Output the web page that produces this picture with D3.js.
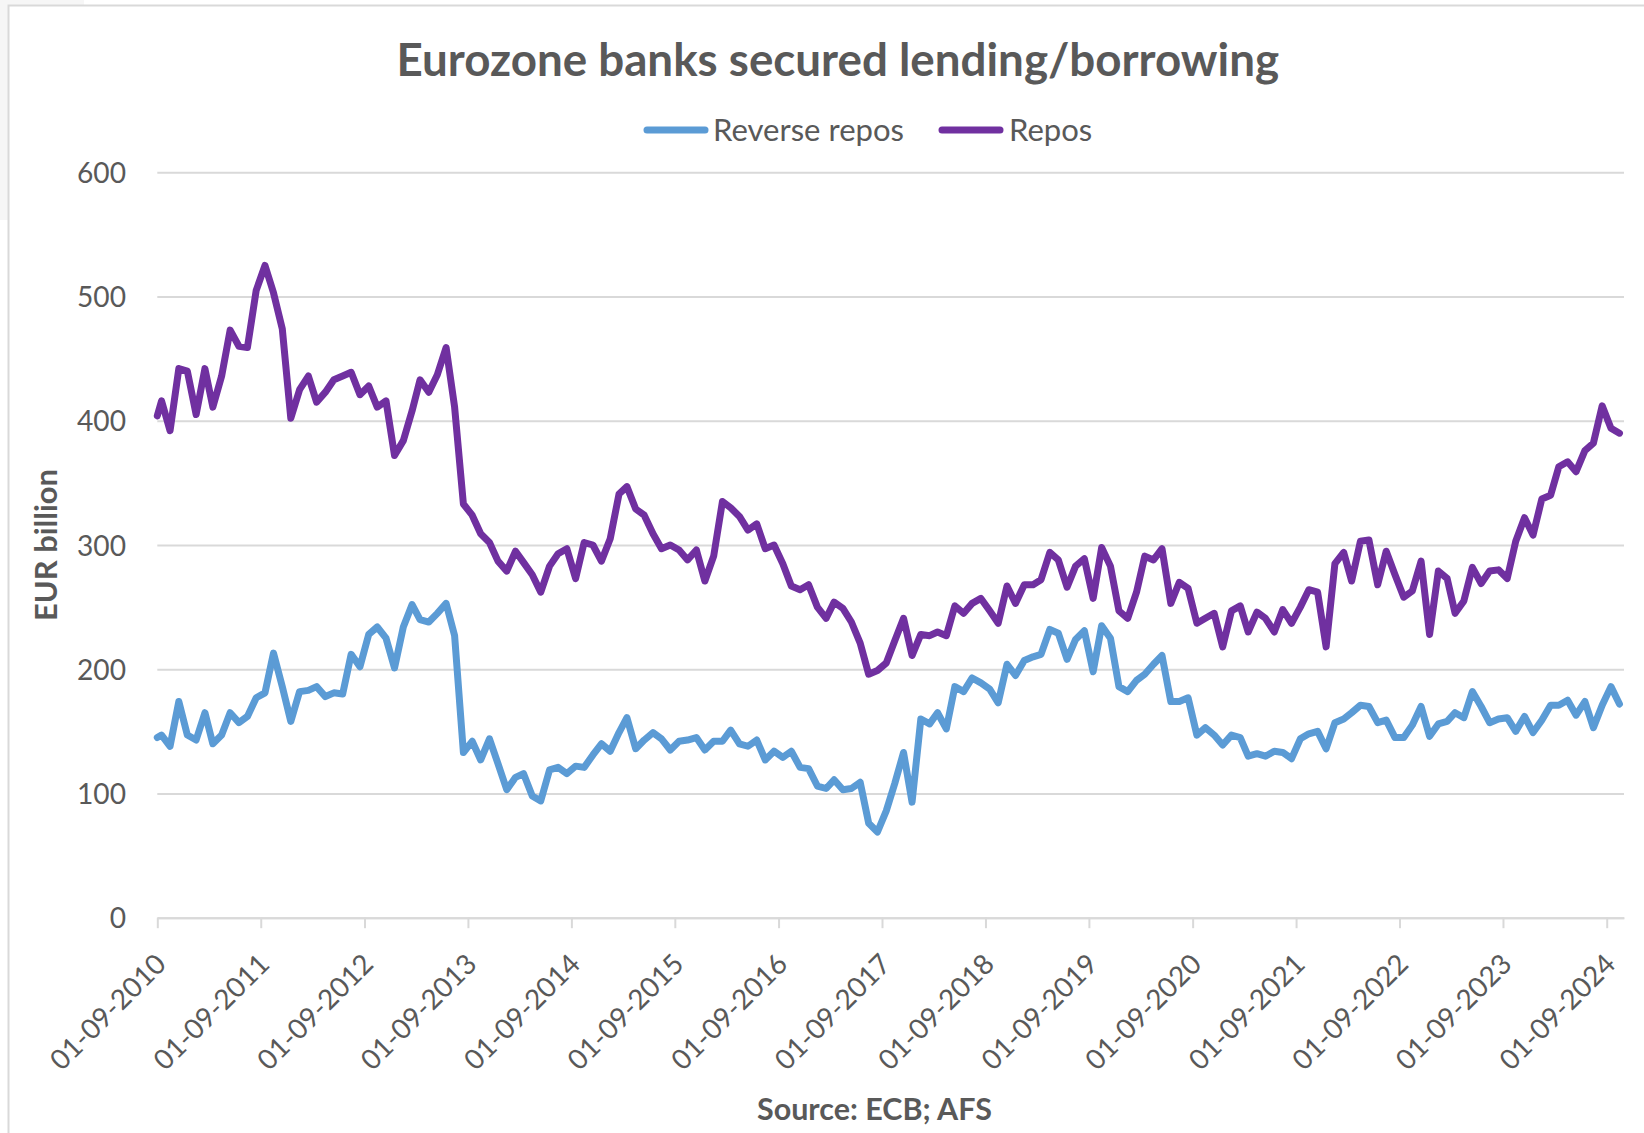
<!DOCTYPE html>
<html>
<head>
<meta charset="utf-8">
<title>Eurozone banks secured lending/borrowing</title>
<script src="https://cdn.jsdelivr.net/npm/d3@7"></script>
<style>
  html, body { margin: 0; padding: 0; background: #ffffff; }
  svg { display: block; }
</style>
</head>
<body>
<svg id="chart" width="1644" height="1133"></svg>
<script>
// ---- Chart data -------------------------------------------------------
const chartTitle = "Eurozone banks secured lending/borrowing";
const yAxisTitle = "EUR billion";
const sourceNote = "Source: ECB; AFS";
const seriesNames = ["Reverse repos", "Repos"];

// First observation, then monthly observations (mid-month)
const firstObservation = "2010-09-01";
const monthlyStart = "2010-09-16";

// EUR billion
const reverseRepos = [
  145,
  147,138,174,147,143,165,140,147,165,157,162,177,181,213,186,158,182,183,186,178,
  181,180,212,202,228,234,225,201,234,252,240,238,245,253,227,133,142,127,144,124,
  103,113,116,98,94,119,121,116,122,121,131,140,134,149,161,136,143,149,144,135,
  142,143,145,135,142,142,151,140,138,143,127,134,129,134,121,120,106,104,111,103,
  104,109,76,69,86,108,133,93,160,156,165,152,186,182,193,189,184,173,204,195,
  207,210,212,232,229,208,224,231,198,235,225,186,182,191,196,204,211,174,174,177,
  147,153,147,139,147,145,130,132,130,134,133,128,144,148,150,136,157,160,165,171,
  170,157,159,145,145,155,170,146,156,158,165,161,182,170,157,160,161,150,162,149,
  159,171,171,175,163,174,153,171,186,172
];
const repos = [
  404,
  416,392,442,440,405,442,411,436,473,460,459,505,525,503,474,402,425,436,415,423,
  433,436,439,421,428,411,416,372,384,408,433,423,437,459,411,333,324,309,302,287,
  279,295,286,276,262,283,293,297,273,302,300,287,305,341,347,329,324,309,297,300,
  296,288,296,271,291,335,330,323,312,317,297,300,285,267,264,268,250,241,254,249,
  238,221,196,199,205,223,241,211,228,227,230,227,251,245,253,257,247,237,267,253,
  268,268,272,294,288,266,283,289,257,298,283,247,241,262,291,288,297,253,270,265,
  237,241,245,218,247,251,230,246,241,230,248,237,250,264,262,218,285,294,271,303,
  304,268,295,276,258,263,287,228,279,273,245,255,282,269,279,280,273,303,322,308,
  337,340,363,367,359,376,382,412,394,390
];

const yTickValues = [0, 100, 200, 300, 400, 500, 600];
const xTickLabels = [
  "01-09-2010", "01-09-2011", "01-09-2012", "01-09-2013", "01-09-2014",
  "01-09-2015", "01-09-2016", "01-09-2017", "01-09-2018", "01-09-2019",
  "01-09-2020", "01-09-2021", "01-09-2022", "01-09-2023", "01-09-2024"
];
const axisEnd = "2024-11-01";

// ---- Styling ----------------------------------------------------------
const FONT = "Lato, 'Open Sans', 'Liberation Sans', sans-serif";
const TEXT = "#595959";
const GRID = "#d9d9d9";
const COLORS = { "Reverse repos": "#5B9BD5", "Repos": "#7030A0" };
const CAP = 0.72; // cap height / font size for the chosen face

const svg = d3.select("#chart");
const W = 1644, H = 1133;
const plot = { left: 157.3, right: 1624, top: 172.3, bottom: 917.7 };

// font size that makes a string span a given width
function fitSize(str, weight, target) {
  const base = 40;
  const t = svg.append("text")
    .attr("font-family", FONT).attr("font-weight", weight)
    .attr("font-size", base).text(str);
  const w = t.node().getComputedTextLength();
  t.remove();
  return base * target / w;
}

// ---- Chart frame ------------------------------------------------------
svg.append("rect").attr("x", 0).attr("y", 0).attr("width", 84).attr("height", 220)
  .attr("fill", "#f6f6f6");
svg.append("rect").attr("x", 8.5).attr("y", 5.5).attr("width", W + 20).attr("height", H + 20)
  .attr("fill", "#ffffff").attr("stroke", GRID).attr("stroke-width", 2);

// ---- Scales -----------------------------------------------------------
const parseISO = d3.timeParse("%Y-%m-%d");
const parseLabel = d3.timeParse("%d-%m-%Y");
const start = parseISO(monthlyStart);
const dates = [parseISO(firstObservation)].concat(
  d3.range(reverseRepos.length - 1).map(i => d3.timeMonth.offset(start, i))
);

const x = d3.scaleTime()
  .domain([parseLabel(xTickLabels[0]), parseISO(axisEnd)])
  .range([plot.left, plot.right]);
const y = d3.scaleLinear().domain([0, 600]).range([plot.bottom, plot.top]);

// ---- Y axis + gridlines ----------------------------------------------
const ySize = fitSize("600", 400, 49);
const yAxis = svg.append("g")
  .attr("transform", `translate(${plot.left},0)`)
  .call(d3.axisLeft(y).tickValues(yTickValues)
    .tickSizeInner(-(plot.right - plot.left)).tickSizeOuter(0).tickPadding(31.3));
yAxis.select(".domain").remove();
yAxis.selectAll(".tick line").attr("stroke", GRID).attr("stroke-width", 2);
yAxis.selectAll(".tick text")
  .attr("font-family", FONT).attr("font-size", ySize).attr("fill", TEXT)
  .attr("dy", null).attr("y", ySize * CAP / 2);

// ---- X axis -----------------------------------------------------------
const xSize = fitSize("01-09-2010", 400, 150);
const xAxis = svg.append("g")
  .attr("transform", `translate(0,${plot.bottom})`)
  .call(d3.axisBottom(x)
    .tickValues(xTickLabels.map(parseLabel))
    .tickFormat((d, i) => xTickLabels[i])
    .tickSizeInner(10.5).tickSizeOuter(0));
xAxis.select(".domain").attr("stroke", GRID).attr("stroke-width", 2);
xAxis.selectAll(".tick line").attr("stroke", GRID).attr("stroke-width", 2);
xAxis.selectAll(".tick text")
  .attr("font-family", FONT).attr("font-size", xSize).attr("fill", TEXT)
  .attr("x", 0).attr("y", 0).attr("dy", null)
  .attr("text-anchor", "end")
  .attr("transform", "translate(10,48) rotate(-45)");

// ---- Lines ------------------------------------------------------------
const line = d3.line().x((d, i) => x(dates[i])).y(d => y(d));
const seriesData = { "Reverse repos": reverseRepos, "Repos": repos };
seriesNames.forEach(name => {
  svg.append("path")
    .datum(seriesData[name])
    .attr("d", line)
    .attr("fill", "none")
    .attr("stroke", COLORS[name])
    .attr("stroke-width", 7)
    .attr("stroke-linejoin", "round")
    .attr("stroke-linecap", "round");
});

// ---- Title ------------------------------------------------------------
const tSize = fitSize(chartTitle, 700, 883);
svg.append("text")
  .attr("x", 837.8).attr("y", 60 + tSize * CAP / 2)
  .attr("text-anchor", "middle")
  .attr("font-family", FONT).attr("font-weight", 700).attr("font-size", tSize)
  .attr("fill", TEXT).text(chartTitle);

// ---- Legend -----------------------------------------------------------
const lSize = fitSize("Reverse repos", 400, 191);
const legendItems = [
  { name: "Reverse repos", x0: 647, x1: 705, tx: 713 },
  { name: "Repos", x0: 942, x1: 1000, tx: 1009 }
];
const legend = svg.append("g");
legendItems.forEach(item => {
  legend.append("line")
    .attr("x1", item.x0).attr("x2", item.x1).attr("y1", 130).attr("y2", 130)
    .attr("stroke", COLORS[item.name]).attr("stroke-width", 7)
    .attr("stroke-linecap", "round");
  legend.append("text")
    .attr("x", item.tx).attr("y", 130 + lSize * CAP / 2)
    .attr("font-family", FONT).attr("font-size", lSize).attr("fill", TEXT)
    .text(item.name);
});

// ---- Y axis title -----------------------------------------------------
const yTitleSize = fitSize(yAxisTitle, 700, 152);
svg.append("text")
  .attr("transform", `translate(57,${(plot.top + plot.bottom) / 2}) rotate(-90)`)
  .attr("text-anchor", "middle")
  .attr("font-family", FONT).attr("font-weight", 700).attr("font-size", yTitleSize)
  .attr("fill", TEXT).text(yAxisTitle);

// ---- Source -----------------------------------------------------------
const sSize = fitSize(sourceNote, 700, 235);
svg.append("text")
  .attr("x", 874.5).attr("y", 1109.5 + sSize * CAP / 2)
  .attr("text-anchor", "middle")
  .attr("font-family", FONT).attr("font-weight", 700).attr("font-size", sSize)
  .attr("fill", TEXT).text(sourceNote);
</script>
</body>
</html>
